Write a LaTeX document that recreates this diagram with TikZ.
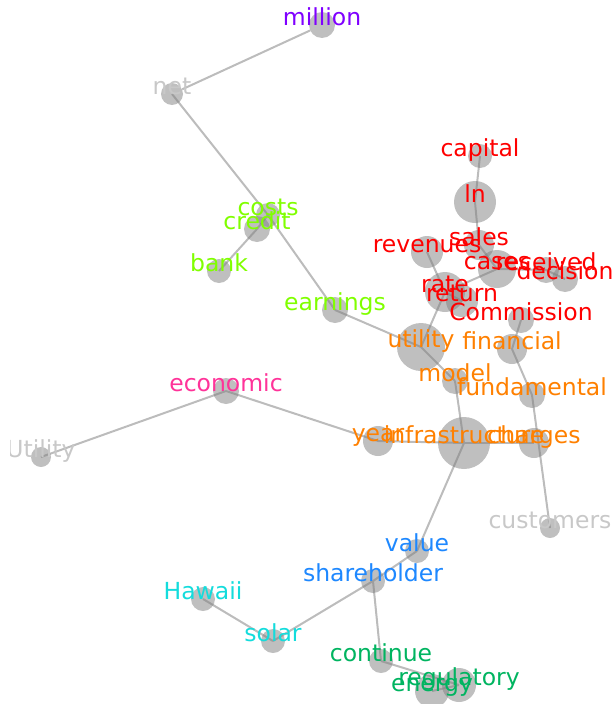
\documentclass[tikz,border=0pt]{standalone}
\usepackage{fontspec}
\setmainfont{DejaVu Sans}
\usepackage{tikz}
\usetikzlibrary{backgrounds}
\definecolor{lila}{RGB}{127,0,255}
\definecolor{hellgrau}{RGB}{200,200,200}
\definecolor{hellgruen}{RGB}{128,255,0}
\definecolor{rot}{RGB}{255,0,0}
\definecolor{orange}{RGB}{255,128,0}
\definecolor{pink}{RGB}{255,51,153}
\definecolor{blau}{RGB}{30,136,255}
\definecolor{tuerkis}{RGB}{20,220,220}
\definecolor{gruen}{RGB}{0,180,96}
\definecolor{kante}{RGB}{188,188,188}
\tikzset{
  Knoten/.style={circle, inner sep=0pt, minimum size=#1, fill={rgb,255:red,128;green,128;blue,128}, fill opacity=.5}, % Kreise
  Wort/.style={text=#1, anchor=base, inner sep=0pt, font=\fontsize{23.5}{28}\selectfont}, % Beschriftung
  Kante/.style={draw=kante, line width=2pt} % Verbindungen
}

\begin{document}
\begin{tikzpicture}[x=1pt, y=-1pt]
\useasboundingbox (0,0) rectangle (615,704);

%Knoten
\node[Knoten=26pt] (million) at (322,25) {};
\node[Knoten=22pt] (net) at (172,94) {};
\node[Knoten=24pt] (costs) at (268,215) {};
\node[Knoten=26pt] (credit) at (257,229) {};
\node[Knoten=24pt] (bank) at (219,271) {};
\node[Knoten=26pt] (earnings) at (335,310) {};
\node[Knoten=24pt] (capital) at (480,156) {};
\node[Knoten=42pt] (ln) at (475,202) {};
\node[Knoten=30pt] (sales) at (479,245) {};
\node[Knoten=32pt] (revenues) at (427,252) {};
\node[Knoten=38pt] (cases) at (497,269) {};
\node[Knoten=26pt] (received) at (546,270) {};
\node[Knoten=26pt] (decision) at (565,279) {};
\node[Knoten=40pt] (rate) at (445,292) {};
\node[Knoten=32pt] (return) at (462,301) {};
\node[Knoten=26pt] (commission) at (521,320) {};
\node[Knoten=48pt] (utility) at (421,347) {};
\node[Knoten=30pt] (financial) at (512,349) {};
\node[Knoten=26pt] (model) at (455,381) {};
\node[Knoten=26pt] (fundamental) at (532,395) {};
\node[Knoten=30pt] (year) at (378,441) {};
\node[Knoten=52pt] (infrastructure) at (464,443) {};
\node[Knoten=30pt] (charges) at (534,443) {};
\node[Knoten=26pt] (economic) at (226,391) {};
\node[Knoten=20pt] (Utility) at (41,457) {};
\node[Knoten=20pt] (customers) at (550,528) {};
\node[Knoten=24pt] (value) at (417,551) {};
\node[Knoten=24pt] (shareholder) at (373,581) {};
\node[Knoten=24pt] (hawaii) at (203,599) {};
\node[Knoten=24pt] (solar) at (273,641) {};
\node[Knoten=24pt] (continue) at (381,661) {};
\node[Knoten=34pt] (energy) at (432,691) {};
\node[Knoten=34pt] (regulatory) at (459,685) {};

%Kanten
\begin{scope}[on background layer]
\draw[Kante] (million) -- (net);
\draw[Kante] (net.center) -- (costs.center);
\draw[Kante] (costs.center) -- (credit.center);
\draw[Kante] (credit.center) -- (bank.center);
\draw[Kante] (costs.center) -- (earnings.center);
\draw[Kante] (earnings.center) -- (utility.center);
\draw[Kante] (utility.center) -- (rate.center);
\draw[Kante] (rate.center) -- (revenues.center);
\draw[Kante] (rate.center) -- (return.center);
\draw[Kante] (rate.center) -- (cases.center);
\draw[Kante] (cases.center) -- (sales.center);
\draw[Kante] (sales.center) -- (ln.center);
\draw[Kante] (ln.center) -- (capital.center);
\draw[Kante] (cases.center) -- (received.center);
\draw[Kante] (received.center) -- (decision.center);
\draw[Kante] (utility.center) -- (model.center);
\draw[Kante] (model.center) -- (infrastructure.center);
\draw[Kante] (year.center) -- (infrastructure.center);
\draw[Kante] (infrastructure.center) -- (charges.center);
\draw[Kante] (economic.center) -- (year.center);
\draw[Kante] (economic.center) -- (Utility.center);
\draw[Kante] (commission.center) -- (financial.center);
\draw[Kante] (financial.center) -- (fundamental.center);
\draw[Kante] (fundamental.center) -- (customers.center);
\draw[Kante] (infrastructure.center) -- (value.center);
\draw[Kante] (value.center) -- (shareholder.center);
\draw[Kante] (shareholder.center) -- (solar.center);
\draw[Kante] (solar.center) -- (hawaii.center);
\draw[Kante] (shareholder.center) -- (continue.center);
\draw[Kante] (continue.center) -- (regulatory.center);
\draw[Kante] (regulatory.center) -- (energy.center);
\end{scope}

%Beschriftung
\node[Wort=lila] (million-w) at (million.center) {million};
\node[Wort=hellgrau] (net-w) at (net.center) {net};
\node[Wort=hellgruen] (costs-w) at (costs.center) {costs};
\node[Wort=hellgruen] (credit-w) at (credit.center) {credit};
\node[Wort=hellgruen] (bank-w) at (bank.center) {bank};
\node[Wort=hellgruen] (earnings-w) at (earnings.center) {earnings};
\node[Wort=rot] (capital-w) at (capital.center) {capital};
\node[Wort=rot] (ln-w) at (ln.center) {ln};
\node[Wort=rot] (sales-w) at (sales.center) {sales};
\node[Wort=rot] (revenues-w) at (revenues.center) {revenues};
\node[Wort=rot] (cases-w) at (cases.center) {cases};
\node[Wort=rot] (received-w) at (received.center) {received};
\node[Wort=rot] (decision-w) at (decision.center) {decision};
\node[Wort=rot] (rate-w) at (rate.center) {rate};
\node[Wort=rot] (return-w) at (return.center) {return};
\node[Wort=rot] (commission-w) at (commission.center) {Commission};
\node[Wort=orange] (utility-w) at (utility.center) {utility};
\node[Wort=orange] (financial-w) at (financial.center) {financial};
\node[Wort=orange] (model-w) at (model.center) {model};
\node[Wort=orange] (fundamental-w) at (fundamental.center) {fundamental};
\node[Wort=orange] (year-w) at (year.center) {year};
\node[Wort=orange] (infrastructure-w) at (infrastructure.center) {infrastructure};
\node[Wort=orange] (charges-w) at (charges.center) {charges};
\node[Wort=pink] (economic-w) at (economic.center) {economic};
\begin{scope}
\clip (10,420) rectangle (120,480); % links abgeschnitten
\node[Wort=hellgrau] (Utility-w) at (Utility.center) {Utility};
\end{scope}
\node[Wort=hellgrau] (customers-w) at (customers.center) {customers};
\node[Wort=blau] (value-w) at (value.center) {value};
\node[Wort=blau] (shareholder-w) at (shareholder.center) {shareholder};
\node[Wort=tuerkis] (hawaii-w) at (hawaii.center) {Hawaii};
\node[Wort=tuerkis] (solar-w) at (solar.center) {solar};
\node[Wort=gruen] (continue-w) at (continue.center) {continue};
\node[Wort=gruen] (energy-w) at (energy.center) {energy};
\node[Wort=gruen] (regulatory-w) at (regulatory.center) {regulatory};

\end{tikzpicture}
\end{document}
